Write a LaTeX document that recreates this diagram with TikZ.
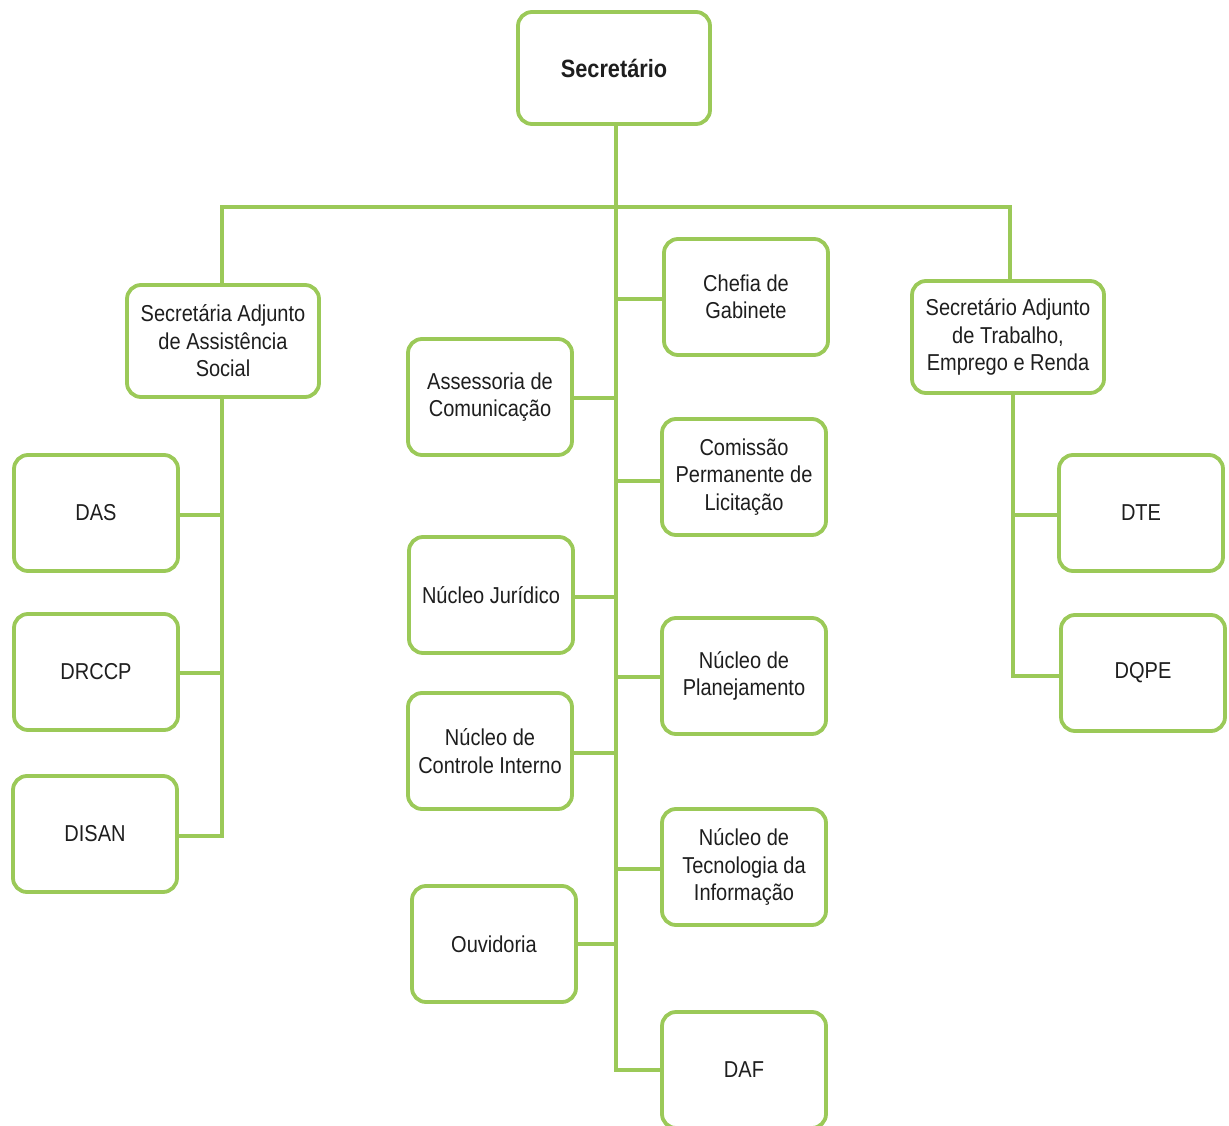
\documentclass[tikz,border=0pt]{standalone}
\usepackage{fontspec}
\setmainfont[FakeStretch=0.87]{Liberation Sans}
\definecolor{grn}{RGB}{155,201,88}
\definecolor{txt}{RGB}{30,30,30}
\begin{document}
\begin{tikzpicture}[x=1pt,y=-1pt,
  box/.style={draw=grn, line width=3.8pt, rounded corners=14pt, fill=white,
    minimum width=164pt, minimum height=116pt, inner sep=2pt, align=center,
    text=txt, font=\fontsize{23}{27.5}\selectfont},
  wide/.style={box, minimum width=192pt, minimum height=112pt},
  link/.style={draw=grn, line width=3.2pt}]
\useasboundingbox (0,0) rectangle (1229,1126);
% nodes
\node[wide, font=\fontsize{25}{29}\selectfont\bfseries] (sec) at (614,68) {Secretário};
\node[wide] (saas) at (223,341) {Secretária Adjunto\\de Assistência\\Social};
\node[wide] (sate) at (1008,337) {Secretário Adjunto\\de Trabalho,\\Emprego e Renda};
\node[box] (das) at (96,513) {DAS};
\node[box] (drccp) at (96,672) {DRCCP};
\node[box] (disan) at (95,834) {DISAN};
\node[box] (chefia) at (746,297) {Chefia de\\Gabinete};
\node[box] (asscom) at (490,397) {Assessoria de\\Comunicação};
\node[box] (cpl) at (744,477) {Comissão\\Permanente de\\Licitação};
\node[box] (jur) at (491,595) {Núcleo Jurídico};
\node[box] (plan) at (744,676) {Núcleo de\\Planejamento};
\node[box] (ci) at (490,751) {Núcleo de\\Controle Interno};
\node[box] (ti) at (744,867) {Núcleo de\\Tecnologia da\\Informação};
\node[box] (ouv) at (494,944) {Ouvidoria};
\node[box] (daf) at (744,1070) {DAF};
\node[box] (dte) at (1141,513) {DTE};
\node[box] (dqpe) at (1143,673) {DQPE};
% junction coordinates
\coordinate (bus) at (616,207);
\coordinate (tend) at (616,1070);
\coordinate (lend) at (222,836);
\coordinate (rend) at (1013,676);
% connectors
\draw[link] (sec.south -| bus) -- (tend) -- (daf.west |- tend);
\draw[link] (saas.north -| 222,0) -- (222,207) -- (1010,207) -- (sate.north -| 1010,0);
\draw[link] (saas.south -| lend) -- (lend) -- (disan.east |- lend);
\draw[link] (das.east |- 0,515) -- (222,515);
\draw[link] (drccp.east |- 0,673) -- (222,673);
\draw[link] (sate.south -| rend) -- (rend) -- (dqpe.west |- rend);
\draw[link] (dte.west |- 0,515) -- (1013,515);
\draw[link] (chefia.west |- 0,299) -- (616,299);
\draw[link] (asscom.east |- 0,398) -- (616,398);
\draw[link] (cpl.west |- 0,481) -- (616,481);
\draw[link] (jur.east |- 0,597) -- (616,597);
\draw[link] (plan.west |- 0,677) -- (616,677);
\draw[link] (ci.east |- 0,753) -- (616,753);
\draw[link] (ti.west |- 0,869) -- (616,869);
\draw[link] (ouv.east |- 0,944) -- (616,944);
\end{tikzpicture}
\end{document}
